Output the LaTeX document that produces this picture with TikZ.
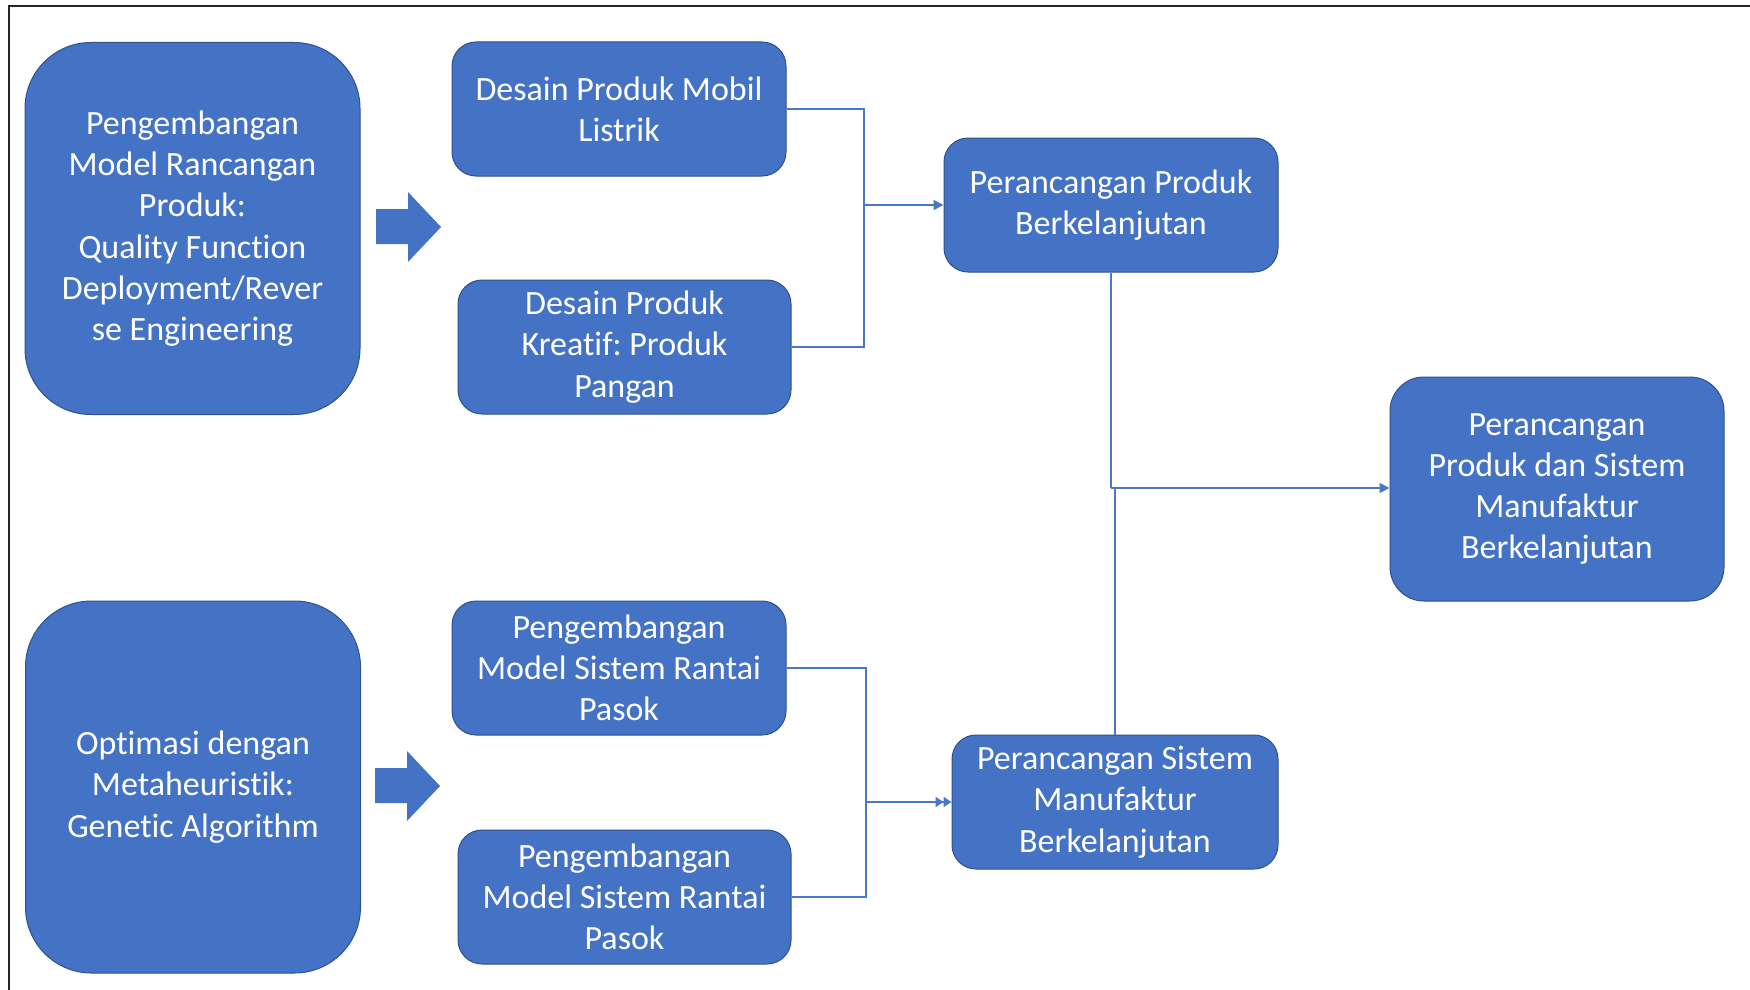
\documentclass[tikz,border=0pt]{standalone}
\usepackage{fontspec}
\setmainfont{Carlito}[Ligatures=NoCommon]
\frenchspacing
\usetikzlibrary{arrows.meta}
\definecolor{boxblue}{HTML}{4472C4}
\definecolor{edgeblue}{HTML}{2F528F}
\definecolor{linkblue}{HTML}{4A78C8}
\begin{document}
\begin{tikzpicture}[x=1pt,y=-1pt,
  box/.style={draw=edgeblue, line width=1pt, fill=boxblue, text=white,
    align=center, inner sep=0pt,
    font=\fontsize{34}{41.3}\selectfont},
  smallbox/.style={box, minimum width=334pt, minimum height=134pt, rounded corners=24pt},
  bigbox/.style={box, minimum width=335pt, minimum height=372pt, rounded corners=66pt},
  link/.style={draw=linkblue, line width=1.8pt},
  tip/.style={-{Triangle[length=10pt,width=10pt]}},
  dtip/.style={-{Triangle[length=8pt,width=10pt]Triangle[length=8pt,width=10pt]}},
  blockarrow/.style={fill=boxblue, draw=none}
]
\useasboundingbox (0,0) rectangle (1750,990);
\fill[white] (0,0) rectangle (1750,990);

% outer frame (top and left edges)
\draw[line width=2.5pt, black!85] (9,992) -- (9,6) -- (1752,6);

% left column
\node[bigbox] (qfd) at (192.5,228.5) {Pengembangan\\Model Rancangan\\Produk:\\Quality Function\\Deployment/Rever\\se Engineering};
\node[bigbox] (ga) at (193,787) {Optimasi dengan\\Metaheuristik:\\Genetic Algorithm};

% block arrows
\fill[blockarrow] (376,209) -- (408,209) -- (408,192) -- (441,227) -- (408,262) -- (408,244) -- (376,244) -- cycle;
\fill[blockarrow] (375,768) -- (407,768) -- (407,751) -- (440,786) -- (407,821) -- (407,803) -- (375,803) -- cycle;

% middle column
\node[smallbox] (mobil) at (619,109) {Desain Produk Mobil\\Listrik};
\node[smallbox, minimum width=333pt] (pangan) at (624.5,347) {Desain Produk\\Kreatif: Produk\\Pangan};
\node[smallbox] (rantai1) at (619,668) {Pengembangan\\Model Sistem Rantai\\Pasok};
\node[smallbox, minimum width=333pt] (rantai2) at (624.5,897) {Pengembangan\\Model Sistem Rantai\\Pasok};

% right column
\node[smallbox] (produk) at (1111,205) {Perancangan Produk\\Berkelanjutan};
\node[smallbox, minimum width=326pt] (sistem) at (1115,802) {Perancangan Sistem\\Manufaktur\\Berkelanjutan};
\node[smallbox, minimum height=224pt, rounded corners=34pt] (final) at (1557,489) {Perancangan\\Produk dan Sistem\\Manufaktur\\Berkelanjutan};

% junction points
\coordinate (j1) at (864,205);
\coordinate (j2) at (866,802);
\coordinate (j3) at (1111,488);

% upper merge
\draw[link] (mobil.east) -| (j1) |- (pangan.east);
\draw[link, tip] (j1) -- (produk.west);

% lower merge
\draw[link] (rantai1.east) -| (j2) |- (rantai2.east);
\draw[link, dtip] (j2) -- (sistem.west);

% final merge
\draw[link] (produk.south) -- (j3);
\draw[link] (sistem.north) -- (sistem.north |- j3) -- (j3);
\draw[link, tip] (j3) -- (final.west |- j3);
\end{tikzpicture}
\end{document}
